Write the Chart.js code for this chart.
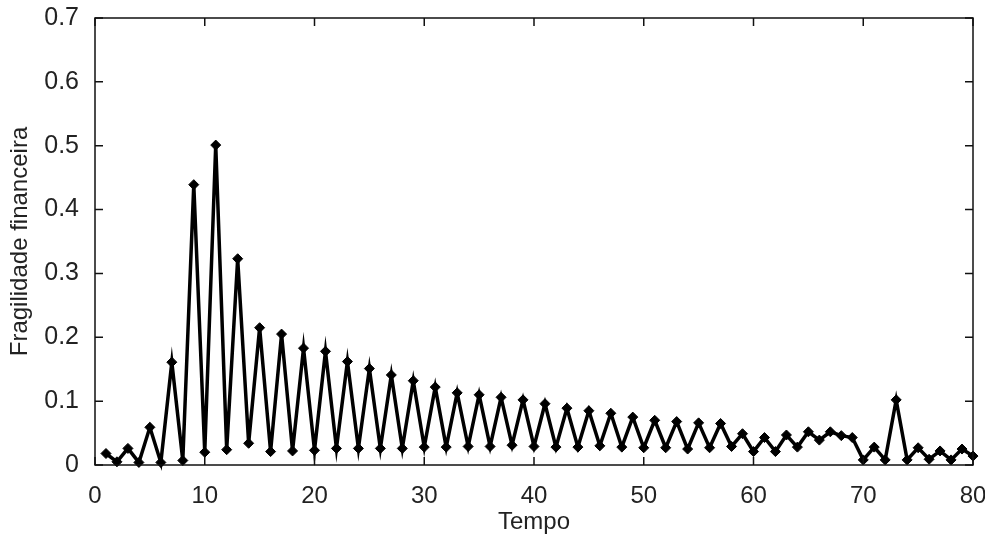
<!DOCTYPE html>
<html>
<head>
<meta charset="utf-8">
<script src="https://cdn.jsdelivr.net/npm/chart.js@4/dist/chart.umd.min.js"></script>
<style>
  html, body { margin: 0; padding: 0; background: #fff; }
  #wrap { width: 985px; height: 535px; }
</style>
</head>
<body>
<div id="wrap"><canvas id="myChart"></canvas></div>
<script>
// tempo (x) and fragilidade financeira (y)
const tempo = [1, 2, 3, 4, 5, 6, 7, 8, 9, 10, 11, 12, 13, 14, 15, 16, 17, 18, 19, 20,
  21, 22, 23, 24, 25, 26, 27, 28, 29, 30, 31, 32, 33, 34, 35, 36, 37, 38, 39, 40,
  41, 42, 43, 44, 45, 46, 47, 48, 49, 50, 51, 52, 53, 54, 55, 56, 57, 58, 59, 60,
  61, 62, 63, 64, 65, 66, 67, 68, 69, 70, 71, 72, 73, 74, 75, 76, 77, 78, 79, 80];
const fragilidade = [0.018, 0.005, 0.026, 0.004, 0.059, 0.004, 0.161, 0.007, 0.439, 0.020,
  0.501, 0.024, 0.323, 0.034, 0.215, 0.021, 0.205, 0.022, 0.183, 0.023,
  0.178, 0.026, 0.162, 0.026, 0.151, 0.026, 0.141, 0.026, 0.132, 0.028,
  0.122, 0.028, 0.113, 0.029, 0.110, 0.029, 0.106, 0.031, 0.102, 0.029,
  0.096, 0.028, 0.089, 0.028, 0.085, 0.030, 0.081, 0.028, 0.075, 0.027,
  0.070, 0.027, 0.068, 0.025, 0.066, 0.027, 0.065, 0.029, 0.049, 0.021,
  0.043, 0.021, 0.047, 0.028, 0.052, 0.039, 0.052, 0.046, 0.043, 0.008,
  0.028, 0.008, 0.102, 0.008, 0.027, 0.009, 0.022, 0.008, 0.025, 0.014];
const xTicks = [0, 10, 20, 30, 40, 50, 60, 70, 80];
const yTicks = [0, 0.1, 0.2, 0.3, 0.4, 0.5, 0.6, 0.7];

const points = tempo.map((t, i) => ({ x: t, y: fragilidade[i] }));

// matlab style box with inward ticks on all four sides
const boxPlugin = {
  id: 'box',
  afterDraw(chart) {
    const ctx = chart.ctx;
    const a = chart.chartArea;
    const xs = chart.scales.x, ys = chart.scales.y;
    const len = 8;
    ctx.save();
    ctx.strokeStyle = '#111';
    ctx.lineWidth = 1.5;
    ctx.strokeRect(a.left, a.top, a.right - a.left, a.bottom - a.top);
    ctx.beginPath();
    xTicks.forEach(v => {
      const px = xs.getPixelForValue(v);
      ctx.moveTo(px, a.bottom); ctx.lineTo(px, a.bottom - len);
      ctx.moveTo(px, a.top); ctx.lineTo(px, a.top + len);
    });
    yTicks.forEach(v => {
      const py = ys.getPixelForValue(v);
      ctx.moveTo(a.left, py); ctx.lineTo(a.left + len, py);
      ctx.moveTo(a.right, py); ctx.lineTo(a.right - len, py);
    });
    ctx.stroke();
    ctx.restore();
  }
};

Chart.defaults.font.family = '"Liberation Sans", Arial, sans-serif';
Chart.defaults.color = '#222';

const ctx = document.getElementById('myChart').getContext('2d');
const myChart = new Chart(ctx, {
  type: 'line',
  data: {
    datasets: [{
      label: 'Fragilidade financeira',
      data: points,
      borderColor: '#000',
      borderWidth: 3.5,
      tension: 0,
      fill: false,
      clip: false,
      pointStyle: 'rectRot',
      pointRadius: 5,
      pointBackgroundColor: '#000',
      pointBorderColor: '#000',
      pointBorderWidth: 1
    }]
  },
  options: {
    responsive: true,
    maintainAspectRatio: false,
    animation: false,
    layout: { padding: { top: 18, right: 12, left: 0, bottom: 0 } },
    plugins: {
      legend: { display: false },
      tooltip: { enabled: false }
    },
    scales: {
      x: {
        type: 'linear',
        min: 0,
        max: 80,
        grid: { display: false },
        border: { display: false },
        afterBuildTicks: s => { s.ticks = xTicks.map(v => ({ value: v })); },
        ticks: { font: { size: 24 }, padding: 9, maxRotation: 0 },
        title: { display: true, text: 'Tempo', font: { size: 24, lineHeight: 1 }, padding: { top: 0, bottom: 1 } },
        afterFit: s => { s.height = 70; s.paddingLeft = 0; s.paddingRight = 0; }
      },
      y: {
        min: 0,
        max: 0.7,
        grid: { display: false },
        border: { display: false },
        afterBuildTicks: s => { s.ticks = yTicks.map(v => ({ value: v })); },
        ticks: {
          font: { size: 25 },
          padding: 8,
          callback: v => v === 0 ? '0' : v.toFixed(1)
        },
        title: { display: true, text: 'Fragilidade financeira', font: { size: 24, lineHeight: 1 }, padding: { top: 8, bottom: 0 } },
        afterFit: s => { s.width = 95; s.paddingTop = 0; s.paddingBottom = 0; }
      }
    }
  },
  plugins: [boxPlugin]
});
</script>
</body>
</html>
